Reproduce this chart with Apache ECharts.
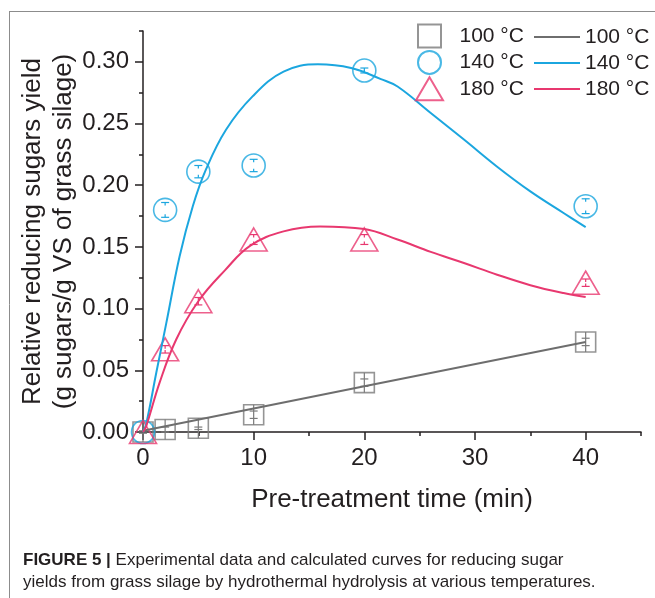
<!DOCTYPE html>
<html><head><meta charset="utf-8">
<script src="https://cdn.jsdelivr.net/npm/echarts@6/dist/echarts.min.js"></script>
<style>html,body{margin:0;padding:0;background:#fff}#c{width:655px;height:598px}</style>
</head><body><div id="c"></div>
<script>
// ---- data ----
const times = [0, 2, 5, 10, 20, 40];
const y100 = [0.000, 0.002, 0.003, 0.014, 0.040, 0.073];
const y140 = [0.000, 0.180, 0.211, 0.216, 0.293, 0.183];
const y180 = [0.000, 0.067, 0.106, 0.156, 0.156, 0.121];
const e100 = [0.001, 0.002, 0.001, 0.003, 0.003, 0.003];
const e140 = [0.000, 0.006, 0.005, 0.005, 0.002, 0.006];
const e180 = [0.000, 0.003, 0.003, 0.004, 0.004, 0.003];

const fit100T = [0, 20, 40];
const fit100V = [0.001, 0.037, 0.073];
const fit140T = [0, 0.3, 1.2, 2.1, 3.3, 4.5, 5.7, 7.5, 9.9, 12.7, 15.8, 18.8, 21.5, 23, 26, 29, 32, 35, 38, 40];
const fit140V = [0, 0.007, 0.048, 0.088, 0.142, 0.183, 0.213, 0.245, 0.272, 0.292, 0.298, 0.295, 0.286, 0.280, 0.2585, 0.237, 0.215, 0.195, 0.1775, 0.166];
const fit180T = [0, 0.3, 1.5, 3.0, 5.0, 7.4, 9.7, 12.7, 16, 20, 23, 26, 29, 32, 35, 38, 40];
const fit180V = [0, 0.005, 0.040, 0.075, 0.106, 0.131, 0.151, 0.1626, 0.1666, 0.1645, 0.156, 0.146, 0.137, 0.1275, 0.119, 0.1126, 0.1094];

const seriesLabels = ['100 °C', '140 °C', '180 °C'];
const xMajor = [0, 10, 20, 30, 40];
const xMinor = [5, 15, 25, 35, 45];
const yMajor = [0, 0.05, 0.10, 0.15, 0.20, 0.25, 0.30];
const yMinor = [0.025, 0.075, 0.125, 0.175, 0.225, 0.275, 0.325];
const xName = 'Pre-treatment time (min)';
const yName = 'Relative reducing sugars yield\n(g sugars/g VS of grass silage)';
const captionBold = 'FIGURE 5 |';
const captionText = ' Experimental data and calculated curves for reducing sugar\nyields from grass silage by hydrothermal hydrolysis at various temperatures.';

// ---- styles ----
const C100 = '#7a7a7a', C100L = '#6e6e6e', C140 = '#1ba6df', C180 = '#e8386f';
const TXT = '#231f20';
const FONT = 'Liberation Sans';

const zip = (a, b) => a.map((v, i) => [v, b[i]]);
const zip3 = (a, b, c) => a.map((v, i) => [v, b[i], c[i]]);

function errRender(full) {
  return function (params, api) {
    const x = api.value(0), v = api.value(1), e = api.value(2);
    const c = api.coord([x, v]);
    const hi = api.coord([x, v + e]);
    const lo = api.coord([x, v - e]);
    const st = { stroke: api.visual('color'), lineWidth: 1.2 };
    const ch = [];
    if (full) ch.push({ type: 'line', shape: { x1: c[0], y1: c[1] - 10, x2: c[0], y2: c[1] + 10 }, style: st });
    if (e > 0) {
      ch.push({ type: 'line', shape: { x1: hi[0] - 4, y1: hi[1], x2: hi[0] + 4, y2: hi[1] }, style: st });
      ch.push({ type: 'line', shape: { x1: lo[0] - 4, y1: lo[1], x2: lo[0] + 4, y2: lo[1] }, style: st });
      if (!full) {
        ch.push({ type: 'line', shape: { x1: hi[0], y1: hi[1], x2: hi[0], y2: hi[1] + 3 }, style: st });
        ch.push({ type: 'line', shape: { x1: lo[0], y1: lo[1] - 3, x2: lo[0], y2: lo[1] }, style: st });
      }
    }
    return { type: 'group', children: ch };
  };
}

const SQ = 'path://M0,0L20,0L20,20L0,20Z';
const CI = 'path://M0,10A10,10,0,1,1,20,10A10,10,0,1,1,0,10Z';
const TR = 'path://M13.5,0L27,23L0,23Z';

const nameMap = { p100: seriesLabels[0], p140: seriesLabels[1], p180: seriesLabels[2], l100: seriesLabels[0], l140: seriesLabels[1], l180: seriesLabels[2] };

const chart = echarts.init(document.getElementById('c'), null, { renderer: 'canvas' });
chart.setOption({
  animation: false,
  backgroundColor: '#fff',
  grid: { left: 143, right: 14, top: 31, bottom: 166 },
  legend: [
    { data: ['p100', 'p140', 'p180'], orient: 'vertical', left: 410, top: 18.5, itemWidth: 50, itemHeight: 23, itemGap: 1.4,
      symbolKeepAspect: true, selectedMode: false, formatter: n => nameMap[n],
      textStyle: { fontSize: 21, color: TXT, fontFamily: FONT, lineHeight: 22 } },
    { data: [{ name: 'l100', icon: 'rect' }, { name: 'l140', icon: 'rect' }, { name: 'l180', icon: 'rect' }],
      orient: 'vertical', left: 529, top: 21, itemWidth: 46, itemHeight: 2, itemGap: 4,
      selectedMode: false, formatter: n => nameMap[n],
      textStyle: { fontSize: 21, color: TXT, fontFamily: FONT, lineHeight: 22 } }
  ],
  xAxis: [
    { type: 'value', min: 0, max: 45, position: 'bottom',
      name: xName, nameLocation: 'middle', nameGap: 55,
      nameTextStyle: { fontSize: 26, color: TXT, fontFamily: FONT },
      axisLine: { lineStyle: { color: TXT, width: 1.5 } },
      axisTick: { length: 8, customValues: xMajor, lineStyle: { color: TXT, width: 1.5 } },
      axisLabel: { customValues: xMajor, fontSize: 24, color: TXT, fontFamily: FONT, margin: 14 },
      splitLine: { show: false } },
    { type: 'value', min: 0, max: 45, position: 'bottom', gridIndex: 0,
      axisLine: { show: false },
      axisTick: { length: 4, customValues: xMinor, lineStyle: { color: TXT, width: 1.5 } },
      axisLabel: { show: false }, splitLine: { show: false } }
  ],
  yAxis: [
    { type: 'value', min: 0, max: 0.325, position: 'left',
      name: yName, nameLocation: 'middle', nameGap: 64, nameMoveOverlap: false,
      nameTextStyle: { fontSize: 26, color: TXT, fontFamily: FONT, lineHeight: 31 },
      axisLine: { show: true, lineStyle: { color: TXT, width: 1.5 } },
      axisTick: { show: true, length: 8, customValues: yMajor, lineStyle: { color: TXT, width: 1.5 } },
      axisLabel: { customValues: yMajor, fontSize: 24, color: TXT, fontFamily: FONT, margin: 14, formatter: v => v.toFixed(2) },
      splitLine: { show: false } },
    { type: 'value', min: 0, max: 0.325, position: 'left', gridIndex: 0,
      axisLine: { show: false },
      axisTick: { show: true, length: 4, customValues: yMinor, lineStyle: { color: TXT, width: 1.5 } },
      axisLabel: { show: false }, splitLine: { show: false } }
  ],
  series: [
    { name: 'l100', type: 'line', data: zip(fit100T, fit100V), symbol: 'none', clip: false,
      lineStyle: { color: C100L, width: 2 }, itemStyle: { color: C100L }, z: 3 },
    { name: 'l140', type: 'line', data: zip(fit140T, fit140V), symbol: 'none', smooth: 0.4, clip: false,
      lineStyle: { color: C140, width: 2 }, itemStyle: { color: C140 }, z: 3 },
    { name: 'l180', type: 'line', data: zip(fit180T, fit180V), symbol: 'none', smooth: 0.4, clip: false,
      lineStyle: { color: C180, width: 2 }, itemStyle: { color: C180 }, z: 3 },
    { name: 'p100', type: 'scatter', data: zip(times, y100), symbol: SQ, symbolSize: 20, clip: false,
      itemStyle: { color: 'rgba(255,255,255,0)', borderColor: C100, borderWidth: 1.6 }, z: 2 },
    { name: 'p140', type: 'scatter', data: zip(times, y140), symbol: CI, symbolSize: 23, clip: false,
      itemStyle: { color: 'rgba(255,255,255,0)', borderColor: C140, borderWidth: 1.6 }, z: 2 },
    { name: 'p180', type: 'scatter', data: zip(times, y180), symbol: TR, symbolSize: [27, 23], clip: false,
      itemStyle: { color: 'rgba(255,255,255,0)', borderColor: C180, borderWidth: 1.6 }, z: 2 },
    { name: 'e100', type: 'custom', data: zip3(times, y100, e100), renderItem: errRender(true), itemStyle: { color: C100 }, z: 2 },
    { name: 'e140', type: 'custom', data: zip3(times, y140, e140), renderItem: errRender(false), itemStyle: { color: C140 }, z: 2 },
    { name: 'e180', type: 'custom', data: zip3(times, y180, e180), renderItem: errRender(false), itemStyle: { color: C180 }, z: 2 }
  ],
  graphic: [
    { type: 'line', shape: { x1: 9, y1: 11.5, x2: 655, y2: 11.5 }, style: { stroke: '#8c8c8c', lineWidth: 1 } },
    { type: 'line', shape: { x1: 9.5, y1: 11, x2: 9.5, y2: 598 }, style: { stroke: '#8c8c8c', lineWidth: 1 } },
    { type: 'text', left: 23, top: 549,
      style: { text: '{b|' + captionBold + '}' + captionText, fontSize: 17, fontFamily: 'Liberation Sans Narrow, Liberation Sans', fill: TXT, lineHeight: 22,
        rich: { b: { fontWeight: 'bold', fontSize: 17, fontFamily: 'Liberation Sans Narrow, Liberation Sans', fill: TXT, lineHeight: 22 } } } }
  ]
});
</script>
</body></html>
